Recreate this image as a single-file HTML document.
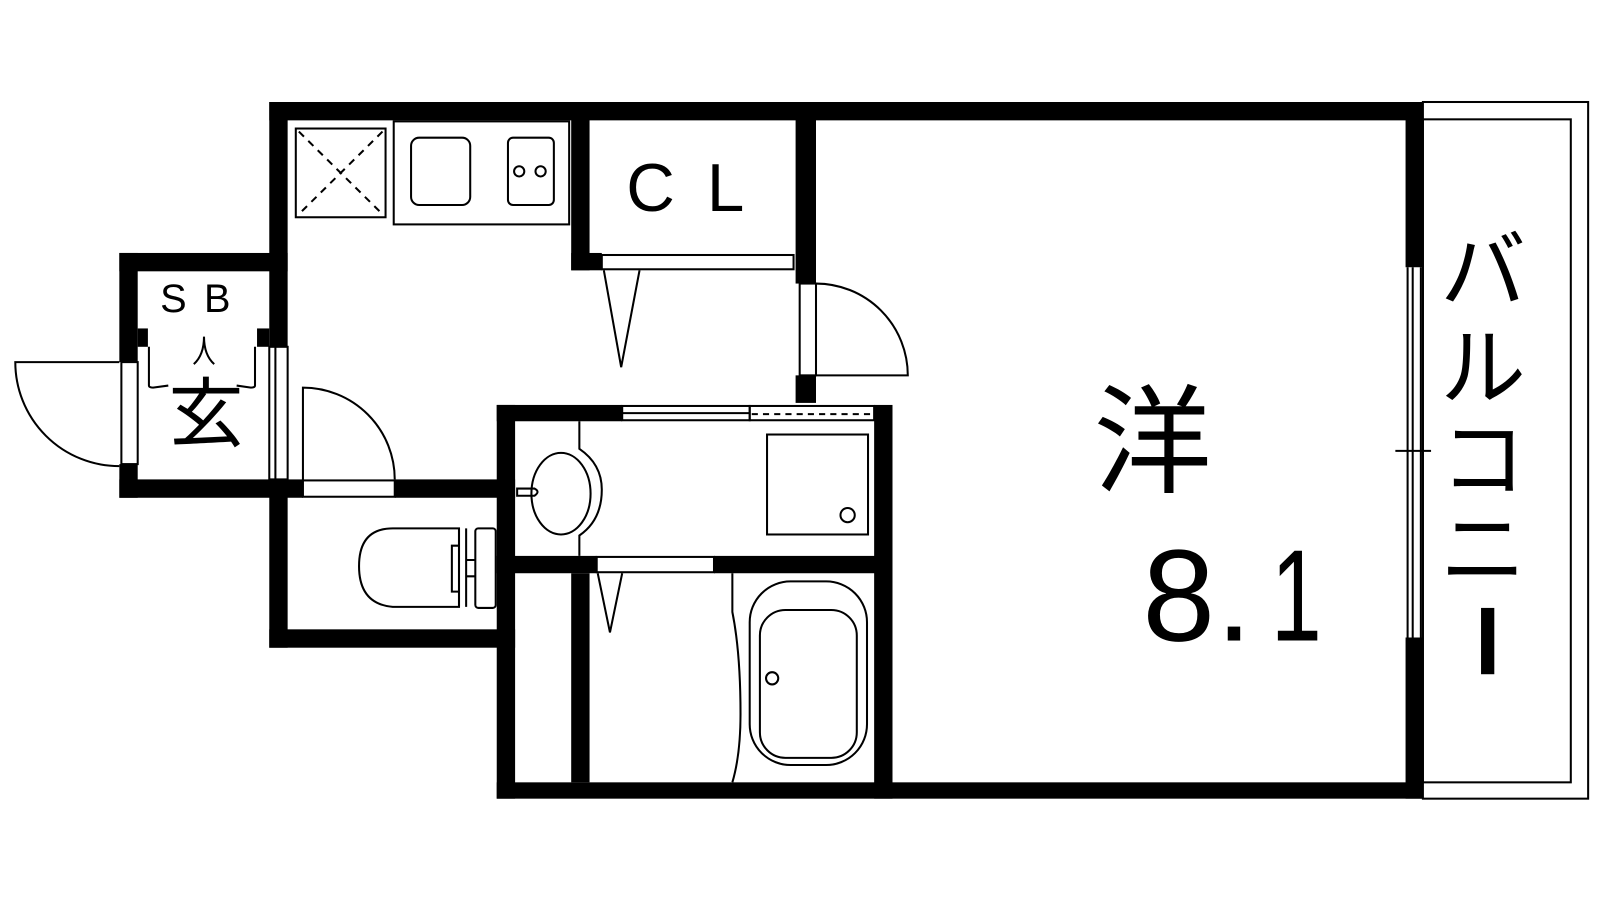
<!DOCTYPE html>
<html><head><meta charset="utf-8"><style>
html,body{margin:0;padding:0;background:#fff;width:1600px;height:900px;overflow:hidden}
svg{display:block}
text{font-family:"Liberation Sans","Noto Sans CJK JP",sans-serif;fill:#000}
</style></head><body>
<svg width="1600" height="900" viewBox="0 0 1600 900" xmlns="http://www.w3.org/2000/svg">
<g transform="scale(1.02)">
<g fill="#000">
<rect x="264" y="100" width="1131" height="18"/>
<rect x="1378" y="100" width="17" height="162"/>
<rect x="1378" y="625" width="17" height="158"/>
<rect x="487" y="767" width="908" height="16"/>
<rect x="264" y="100" width="18" height="240"/>
<rect x="264" y="470" width="18" height="165"/>
<rect x="264" y="617" width="241" height="18"/>
<rect x="117" y="248" width="165" height="18"/>
<rect x="117" y="248" width="18" height="107"/>
<rect x="117" y="455" width="18" height="33"/>
<rect x="117" y="470" width="180" height="18"/>
<rect x="387" y="470" width="118" height="18"/>
<rect x="135" y="322" width="10" height="18"/>
<rect x="252" y="322" width="12" height="18"/>
<rect x="487" y="397" width="18" height="386"/>
<rect x="487" y="397" width="123" height="16"/>
<rect x="857" y="397" width="18" height="386"/>
<rect x="487" y="545" width="98" height="17"/>
<rect x="700" y="545" width="175" height="17"/>
<rect x="560" y="562" width="18" height="205"/>
<rect x="560" y="100" width="18" height="165"/>
<rect x="560" y="248" width="30" height="17"/>
<rect x="780" y="100" width="20" height="178"/>
<rect x="780" y="368" width="20" height="27"/>
</g>
<g fill="none" stroke="#000" stroke-width="2">
<rect x="1395" y="100" width="162" height="683"/>
<rect x="1395" y="117" width="145" height="650"/>
<line x1="1380" y1="262" x2="1380" y2="625"/>
<line x1="1385" y1="262" x2="1385" y2="625"/>
<line x1="1393" y1="262" x2="1393" y2="625"/>
<line x1="1368" y1="442" x2="1403" y2="442"/>
<rect x="290" y="126" width="88" height="87"/>
<line x1="293" y1="129" x2="375" y2="210" stroke-dasharray="7,6"/>
<line x1="375" y1="129" x2="293" y2="210" stroke-dasharray="7,6"/>
<rect x="386" y="119" width="172" height="101"/>
<rect x="403" y="135" width="58" height="66" rx="8"/>
<rect x="498" y="135" width="45" height="66" rx="5"/>
<circle cx="509" cy="168" r="5"/><circle cx="530" cy="168" r="5"/>
<rect x="590" y="250" width="188" height="14"/>
<polyline points="592,265 609,360 627,265"/>
<rect x="784" y="278" width="16" height="90"/>
<path d="M800,278 A90,90 0 0 1 890,368 L800,368"/>
<rect x="264" y="340" width="18" height="130"/>
<line x1="270" y1="340" x2="270" y2="470"/>
<rect x="119" y="355" width="16" height="100"/>
<path d="M117,355 L15,355 A102,102 0 0 0 117,457"/>
<rect x="297" y="471" width="90" height="16"/>
<path d="M297,471 L297,380 A90,90 0 0 1 387,470"/>
<path d="M146,340 L146,378 Q146,380 150,380 L165,378"/>
<path d="M250,340 L250,378 Q250,380 246,380 L232,378"/>
<path d="M200,330 Q200,348 190,357 M200,330 Q200,348 210,357"/>
<rect x="610" y="398" width="125" height="14"/>
<line x1="610" y1="405" x2="735" y2="405"/>
<rect x="735" y="398" width="122" height="14"/>
<line x1="737" y1="406" x2="855" y2="406" stroke-dasharray="6,5"/>
<path d="M568,413 L568,440 Q590,455 590,480 Q590,510 568,525 L568,545"/>
<ellipse cx="550" cy="484" rx="29" ry="40"/>
<path d="M507,479 L524,479 Q530,482 524,486 L507,486 Z"/>
<rect x="752" y="426" width="99" height="98"/>
<circle cx="831" cy="505" r="7"/>
<rect x="585" y="546" width="115" height="15"/>
<polyline points="586,562 598,620 610,562"/>
<path d="M718,562 L718,600 Q726,640 726,700 Q726,740 718,767"/>
<rect x="735" y="570" width="115" height="180" rx="40"/>
<rect x="745" y="598" width="95" height="145" rx="25"/>
<circle cx="757" cy="665" r="6"/>
<path d="M450,518 L385,518 Q352,518 352,555 Q352,592 385,595 L450,595 Z"/>
<path d="M450,518 L450,595 M450,535 L443,535 L443,580 L450,580"/>
<rect x="466" y="518" width="20" height="78" rx="3"/>
<path d="M457,518 L457,595 M457,549 L466,549 M457,565 L466,565"/>
</g>
<text x="614" y="207" font-size="66">C</text>
<text x="693" y="207" font-size="66">L</text>
<text x="157" y="306" font-size="39">S</text>
<text x="200" y="306" font-size="39">B</text>
<text x="165" y="432" font-size="74">玄</text>
<text x="1072" y="474" font-size="116">洋</text>
<text x="1120" y="628" font-size="128">8</text>
<text x="1192" y="628" font-size="128">.</text>
<text transform="translate(1246,628) scale(0.7,1)" font-size="128">1</text>
<g font-size="84">
<text x="1412" y="295">バ</text>
<text x="1412" y="390">ル</text>
<text x="1412" y="480">コ</text>
<text x="1412" y="568">ニ</text>
</g>
<rect x="1452" y="596" width="13" height="65" fill="#000"/>
</g>
</svg>
</body></html>
